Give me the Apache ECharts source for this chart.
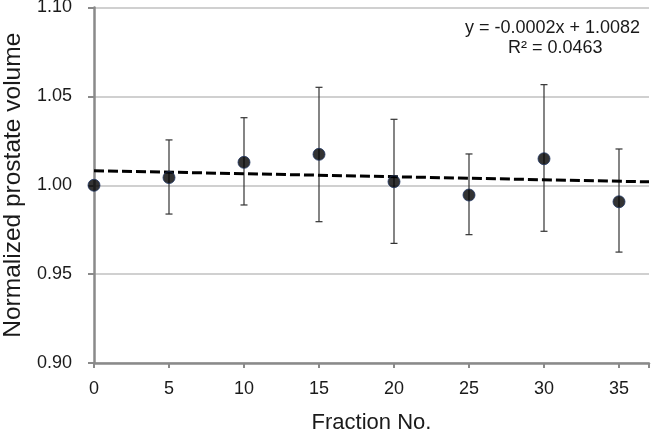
<!DOCTYPE html>
<html>
<head>
<meta charset="utf-8">
<script src="https://cdn.jsdelivr.net/npm/echarts@6/dist/echarts.min.js"></script>
<style>html,body{margin:0;padding:0;background:#fff}#c{width:651px;height:430px}</style>
</head>
<body>
<div id="c"></div>
<script>
// Data
const fractions = [0, 5, 10, 15, 20, 25, 30, 35];
const meanVolume = [1.000, 1.0043, 1.0129, 1.0174, 1.0020, 0.9945, 1.0149, 0.9907];
const errLow  = [1.000, 0.9838, 0.9889, 0.9795, 0.9673, 0.9722, 0.9741, 0.9624];
const errHigh = [1.000, 1.0255, 1.0380, 1.0551, 1.0371, 1.0176, 1.0566, 1.0204];
const trendX = [0, 37];
const trendY = [1.0082, 1.0019];
const yTicks = [0.90, 0.95, 1.00, 1.05, 1.10];
const equationText = ['y = -0.0002x + 1.0082', 'R\u00B2 = 0.0463'];
const xTitle = 'Fraction No.';
const yTitle = 'Normalized prostate volume';

const FONT = 'Arial, "Liberation Sans", sans-serif';
const chart = echarts.init(document.getElementById('c'), null, {renderer: 'canvas'});

const errData = fractions.map((x, i) => [x, errLow[i], errHigh[i]]);
const pts = fractions.map((x, i) => [x, meanVolume[i]]);
const trend = trendX.map((x, i) => [x, trendY[i]]);

chart.setOption({
  animation: false,
  backgroundColor: '#ffffff',
  grid: {left: 94, right: 2, top: 7.5, bottom: 67, containLabel: false, outerBoundsMode: 'none'},
  xAxis: {
    type: 'value', min: 0, max: 37, interval: 5,
    name: xTitle, nameLocation: 'middle', nameGap: 49,
    nameTextStyle: {fontFamily: FONT, fontSize: 22, color: '#1a1a1a'},
    axisLine: {show: true, lineStyle: {color: '#8a8a8a', width: 2.5}},
    axisTick: {show: true, length: 5, lineStyle: {color: '#8a8a8a', width: 2}},
    axisLabel: {fontFamily: FONT, fontSize: 18, color: '#1a1a1a', margin: 17,
      formatter: v => (v % 5 === 0 && v <= 35) ? String(v) : ''},
    splitLine: {show: false}
  },
  yAxis: {
    type: 'value', min: 0.90, max: 1.10, interval: 0.05,
    name: yTitle, nameLocation: 'middle', nameGap: 67,
    nameTextStyle: {fontFamily: FONT, fontSize: 24.5, color: '#1a1a1a'},
    axisLine: {show: true, lineStyle: {color: '#8a8a8a', width: 2.5}},
    axisTick: {show: true, length: 6, lineStyle: {color: '#8a8a8a', width: 2}},
    axisLabel: {fontFamily: FONT, fontSize: 18, color: '#1a1a1a', margin: 22,
      formatter: v => {
        const t = yTicks.find(k => Math.abs(k - v) < 1e-6);
        return t === undefined ? '' : t.toFixed(2);
      }},
    splitLine: {show: true, lineStyle: {color: '#c0c0c0', width: 1.5}}
  },
  series: [
    {
      type: 'custom',
      data: errData,
      z: 2,
      renderItem: function (params, api) {
        const x = api.value(0);
        const lo = api.coord([x, api.value(1)]);
        const hi = api.coord([x, api.value(2)]);
        if (Math.abs(lo[1] - hi[1]) < 0.5) return null;
        const cap = 3.5;
        const st = {stroke: '#333333', lineWidth: 1.2};
        return {
          type: 'group',
          children: [
            {type: 'line', shape: {x1: lo[0], y1: lo[1], x2: hi[0], y2: hi[1]}, style: st},
            {type: 'line', shape: {x1: lo[0] - cap, y1: lo[1], x2: lo[0] + cap, y2: lo[1]}, style: st},
            {type: 'line', shape: {x1: hi[0] - cap, y1: hi[1], x2: hi[0] + cap, y2: hi[1]}, style: st}
          ]
        };
      }
    },
    {
      type: 'line',
      data: trend,
      showSymbol: false,
      symbol: 'none',
      z: 3,
      lineStyle: {color: '#000000', width: 3, type: [10, 4]}
    },
    {
      type: 'scatter',
      data: pts,
      symbol: 'circle',
      symbolSize: 12,
      z: 4,
      itemStyle: {color: '#000000', borderColor: '#1f3560', borderWidth: 1}
    }
  ],
  graphic: [
    {type: 'text', left: 465, top: 19,
      style: {text: equationText[0], font: '18px ' + FONT, fill: '#1a1a1a'}},
    {type: 'text', left: 508, top: 39,
      style: {text: equationText[1], font: '18px ' + FONT, fill: '#1a1a1a'}}
  ]
});
</script>
</body>
</html>
